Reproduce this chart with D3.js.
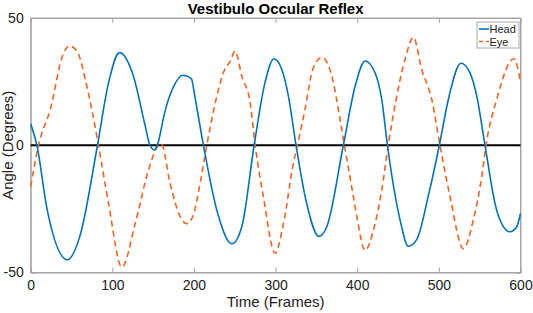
<!DOCTYPE html>
<html><head><meta charset="utf-8">
<script src="https://cdn.jsdelivr.net/npm/d3@7"></script>
<style>body{margin:0;background:#fff}svg{display:block;font-family:"Liberation Sans",Arial,sans-serif}</style>
</head><body><svg id="c" width="533" height="313"></svg>
<script>
const xTicks = [0,100,200,300,400,500,600];
const yTicks = [-50,0,50];
const headFrames = [0,7.6,20,45,60,81.8,95,108.7,125,140,146,151.6,155,165,175,185.9,190,197,201,211.6,228,246.4,258.6,273.7,287,298,307.6,315.7,325,338,353,362.7,383,397.4,409.6,421.8,430,437,452.5,462.6,473,487,500.6,511.6,527,538,546.4,556.5,570.8,587,595.4,600];
const headValues = [8.4,0,-25,-45,-36,0,24,36.4,28,8,0,-1.8,0,14,23,27.5,27.3,26,19.3,0,-25.5,-38.7,-32,0,24.6,34,29.8,19.3,0,-22.8,-35.8,-32,0,23.2,33.1,28.5,18,0,-29.4,-39.7,-37,-20,0,18,32.2,28.5,19.3,0,-25.5,-34,-32,-26.8];
const eyeFrames = [0,9.6,23.9,40,47.5,56.6,68.8,83,95.3,111.7,128,144.3,156.5,160,170.8,183,191,198.6,207.5,215.7,228,236,244.3,250.4,258.6,268.8,275,285,299.4,309.6,321.8,326.7,336,345.5,356.6,368.8,379,384.3,395.3,399.5,409.6,419.8,430,438,448.4,458.6,468.8,479,491.3,501.4,513.7,530,542.2,552.5,557.8,570.8,592,600];
const eyeValues = [-16.3,0,14,36,39,37,23.2,0,-22.8,-47.9,-30.8,-9.7,0,0.5,-15,-28,-30.8,-28,-15,0,19.3,28.5,33,37,27.2,16.7,0,-20.2,-42.4,-30.8,-7,0,14,29.8,34.5,27.2,10,0,-20.2,-28,-41.3,-33.4,-17.6,0,19.3,33.8,42.4,29.8,18,0,-20.2,-40.6,-29.4,-12.3,0,18,34,24.6];
const seriesNames = ["Head","Eye"];

const svg = d3.select("#c");
const m = {l:30.7, r:520.5, t:18, b:272.5};
const x = d3.scaleLinear().domain([0,600]).range([m.l,m.r]);
const y = d3.scaleLinear().domain([-50,50]).range([m.b,m.t]);
const axisColor = "#a6a6a6";
const fmt = d => String(d);

// box
svg.append("rect").attr("x",m.l).attr("y",m.t).attr("width",m.r-m.l).attr("height",m.b-m.t)
  .attr("fill","none").attr("stroke",axisColor).attr("stroke-width",1);

// axes
const xa = svg.append("g").attr("transform",`translate(0,${m.b})`)
  .call(d3.axisBottom(x).tickValues(xTicks).tickSize(-5).tickPadding(8).tickFormat(fmt));
const xt = svg.append("g").attr("transform",`translate(0,${m.t})`)
  .call(d3.axisTop(x).tickValues(xTicks).tickSize(-5).tickFormat(""));
const ya = svg.append("g").attr("transform",`translate(${m.l},0)`)
  .call(d3.axisLeft(y).tickValues(yTicks).tickSize(-5).tickPadding(7).tickFormat(fmt));
const yr = svg.append("g").attr("transform",`translate(${m.r},0)`)
  .call(d3.axisRight(y).tickValues(yTicks).tickSize(-5).tickFormat(""));
[xa,xt,ya,yr].forEach(g=>{
  g.select(".domain").attr("stroke",axisColor);
  g.selectAll(".tick line").attr("stroke",axisColor);
  g.selectAll("text").attr("fill","#222").attr("font-size",14).attr("font-family","Liberation Sans, Arial, sans-serif");
});

// zero line
svg.append("line").attr("x1",x(0)).attr("x2",x(600)).attr("y1",y(0)).attr("y2",y(0))
  .attr("stroke","#000").attr("stroke-width",2);

const line = d3.line().curve(d3.curveMonotoneX);
const headPts = headFrames.map((f,i)=>[x(f),y(headValues[i])]);
const eyePts = eyeFrames.map((f,i)=>[x(f),y(eyeValues[i])]);
svg.append("path").attr("d",line(eyePts)).attr("fill","none").attr("stroke","#F7621F")
  .attr("stroke-width",1.6).attr("stroke-dasharray","6,4");
svg.append("path").attr("d",line(headPts)).attr("fill","none").attr("stroke","#0072BD")
  .attr("stroke-width",1.6);

// title & labels
svg.append("text").attr("x",(m.l+m.r)/2).attr("y",14).attr("text-anchor","middle")
  .attr("font-weight","bold").attr("font-size",15).attr("fill","#000").text("Vestibulo Occular Reflex");
svg.append("text").attr("x",(m.l+m.r)/2).attr("y",307).attr("text-anchor","middle")
  .attr("font-size",15).attr("fill","#222").text("Time (Frames)");
svg.append("text").attr("transform",`translate(13,${(m.t+m.b)/2}) rotate(-90)`).attr("text-anchor","middle")
  .attr("font-size",15).attr("fill","#222").text("Angle (Degrees)");

// legend
const lg = svg.append("g");
lg.append("rect").attr("x",477).attr("y",22).attr("width",42).attr("height",26)
  .attr("fill","#fff").attr("stroke",axisColor);
const cols = ["#0072BD","#F7621F"], dashes=[null,"4,3"];
seriesNames.forEach((n,i)=>{
  const yy = 29 + i*12.5;
  lg.append("line").attr("x1",479).attr("x2",489).attr("y1",yy).attr("y2",yy)
    .attr("stroke",cols[i]).attr("stroke-width",1.6).attr("stroke-dasharray",dashes[i]);
  lg.append("text").attr("x",489.5).attr("y",yy+4).attr("font-size",11).attr("fill","#222").text(n);
});
</script></body></html>
